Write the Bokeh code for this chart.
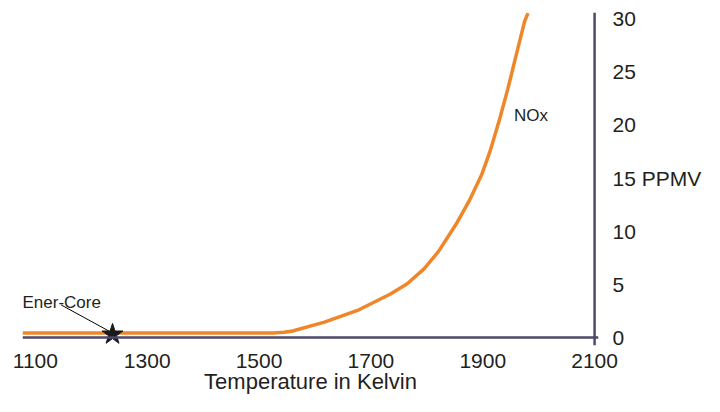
from bokeh.plotting import figure
from bokeh.models import Range1d, Span, Label, FixedTicker
from bokeh.embed import file_html
from bokeh.resources import INLINE

# --- data ---
temperature_k = [1077, 1525, 1545, 1560, 1617, 1676, 1735, 1765, 1795, 1821,
                 1854, 1877, 1898, 1913, 1930, 1945, 1960, 1975, 1981]
nox_ppmv = [0.42, 0.42, 0.5, 0.62, 1.45, 2.55, 4.1, 5.06, 6.46, 8.1,
            10.8, 12.97, 15.3, 17.5, 20.5, 23.4, 26.6, 29.75, 30.5]

enercore_temp = [1238]
enercore_ppmv = [0.3]

x_ticks = [1100, 1300, 1500, 1700, 1900, 2100]
y_ticks = [0, 5, 10, 15, 20, 25, 30]

FONT = "Liberation Sans"
TXT = "#231f20"
AXIS_COL = "#4b4a68"
ORANGE = "#ef8629"

p = figure(width=704, height=396, output_backend="svg", toolbar_location=None,
           x_range=Range1d(1077, 2107), y_range=Range1d(-0.745, 30.56),
           min_border_left=22, min_border_right=101, min_border_top=12,
           min_border_bottom=48, x_axis_location="below", y_axis_location="right")

p.background_fill_color = "white"
p.border_fill_color = "white"
p.outline_line_color = None
p.grid.visible = False

for ax in (p.xaxis, p.yaxis):
    ax.axis_line_color = None
    ax.major_tick_line_color = None
    ax.minor_tick_line_color = None
    ax.major_label_text_font = FONT
    ax.major_label_text_font_size = "21px"
    ax.major_label_text_color = TXT

p.xaxis.ticker = FixedTicker(ticks=x_ticks)
p.yaxis.ticker = FixedTicker(ticks=y_ticks)
p.xaxis.major_label_standoff = 2
p.yaxis.major_label_standoff = 8
p.yaxis.major_label_overrides = {15: "15 PPMV"}

p.xaxis.axis_label = "Temperature in Kelvin"
p.xaxis.axis_label_text_font = FONT
p.xaxis.axis_label_text_font_size = "22px"
p.xaxis.axis_label_text_font_style = "normal"
p.xaxis.axis_label_text_color = TXT
p.xaxis.axis_label_standoff = -2

# axis lines
p.add_layout(Span(location=0, dimension="width", line_color=AXIS_COL, line_width=2.5))
p.add_layout(Span(location=2100, dimension="height", line_color=AXIS_COL, line_width=2.5))

# NOx curve
p.line(temperature_k, nox_ppmv, line_color=ORANGE, line_width=3.5, line_join="round")

# Ener-Core annotation
label_x, label_y = 1077, 3.29
leader_x0, leader_y0 = 1146, 3.07
p.segment(x0=[leader_x0], y0=[leader_y0], x1=[enercore_temp[0] - 6], y1=[enercore_ppmv[0] + 0.3],
          line_color="black", line_width=1)
p.scatter(enercore_temp, enercore_ppmv, marker="star", size=22,
          fill_color="#1a1a1a", line_color="#1a1a1a")
p.add_layout(Label(x=label_x, y=label_y, text="Ener-Core", text_font=FONT,
                   text_font_size="17px", text_color=TXT, text_baseline="alphabetic",
                   text_align="left"))

p.add_layout(Label(x=1956, y=20.87, text="NOx", text_font=FONT,
                   text_font_size="17px", text_color=TXT, text_baseline="alphabetic",
                   text_align="left"))

open("out.html", "w").write(file_html(p, INLINE))
